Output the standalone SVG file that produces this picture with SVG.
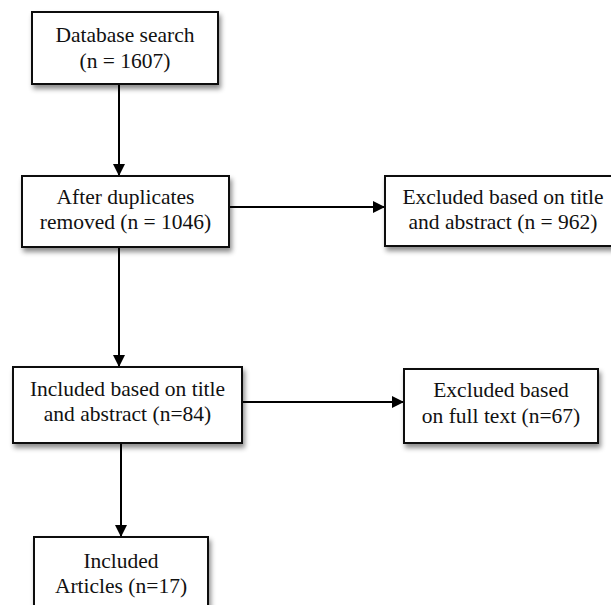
<svg xmlns="http://www.w3.org/2000/svg" width="611" height="605" viewBox="0 0 611 605">
<defs>
<filter id="sh" x="-10%" y="-10%" width="130%" height="140%">
<feDropShadow dx="2" dy="4" stdDeviation="2.5" flood-color="#000" flood-opacity="0.45"/>
</filter>
<marker id="ah" viewBox="0 0 12 12" refX="12" refY="6" markerWidth="12" markerHeight="12" markerUnits="userSpaceOnUse" orient="auto">
<path d="M0,0 L12,6 L0,12 Z" fill="#000"/>
</marker>
<style>
.box{fill:#fff;stroke:#111;stroke-width:2;filter:url(#sh);}
.t{font-family:"Liberation Serif","Times New Roman",serif;font-size:21.5px;fill:#111;text-anchor:middle;}
.c{stroke:#000;stroke-width:2;fill:none;marker-end:url(#ah);}
</style>
</defs>
<rect width="611" height="605" fill="#fff"/>
<g id="connectors">
<line class="c" x1="119" y1="84" x2="119" y2="176"/>
<line class="c" x1="229" y1="207" x2="385" y2="207"/>
<line class="c" x1="119" y1="247" x2="119" y2="367"/>
<line class="c" x1="242" y1="402" x2="404" y2="402"/>
<line class="c" x1="121" y1="443" x2="121" y2="537"/>
</g>
<g id="n1">
<rect class="box" x="32" y="12" width="186" height="72"/>
<text class="t" x="125" y="42">Database search</text>
<text class="t" x="125" y="68">(n = 1607)</text>
</g>
<g id="n2">
<rect class="box" x="22" y="176" width="207" height="71"/>
<text class="t" x="125.5" y="204">After duplicates</text>
<text class="t" x="125.5" y="229">removed (n = 1046)</text>
</g>
<g id="n3">
<rect class="box" x="385" y="176" width="236" height="70"/>
<text class="t" x="503" y="204">Excluded based on title</text>
<text class="t" x="503" y="229">and abstract (n = 962)</text>
</g>
<g id="n4">
<rect class="box" x="13" y="367" width="229" height="76"/>
<text class="t" x="127.5" y="396">Included based on title</text>
<text class="t" x="127.5" y="421">and abstract (n=84)</text>
</g>
<g id="n5">
<rect class="box" x="404" y="369" width="194" height="74"/>
<text class="t" x="501" y="397">Excluded based</text>
<text class="t" x="501" y="423">on full text (n=67)</text>
</g>
<g id="n6">
<rect class="box" x="34" y="537" width="174" height="80"/>
<text class="t" x="121" y="568">Included</text>
<text class="t" x="121" y="593">Articles (n=17)</text>
</g>
</svg>
